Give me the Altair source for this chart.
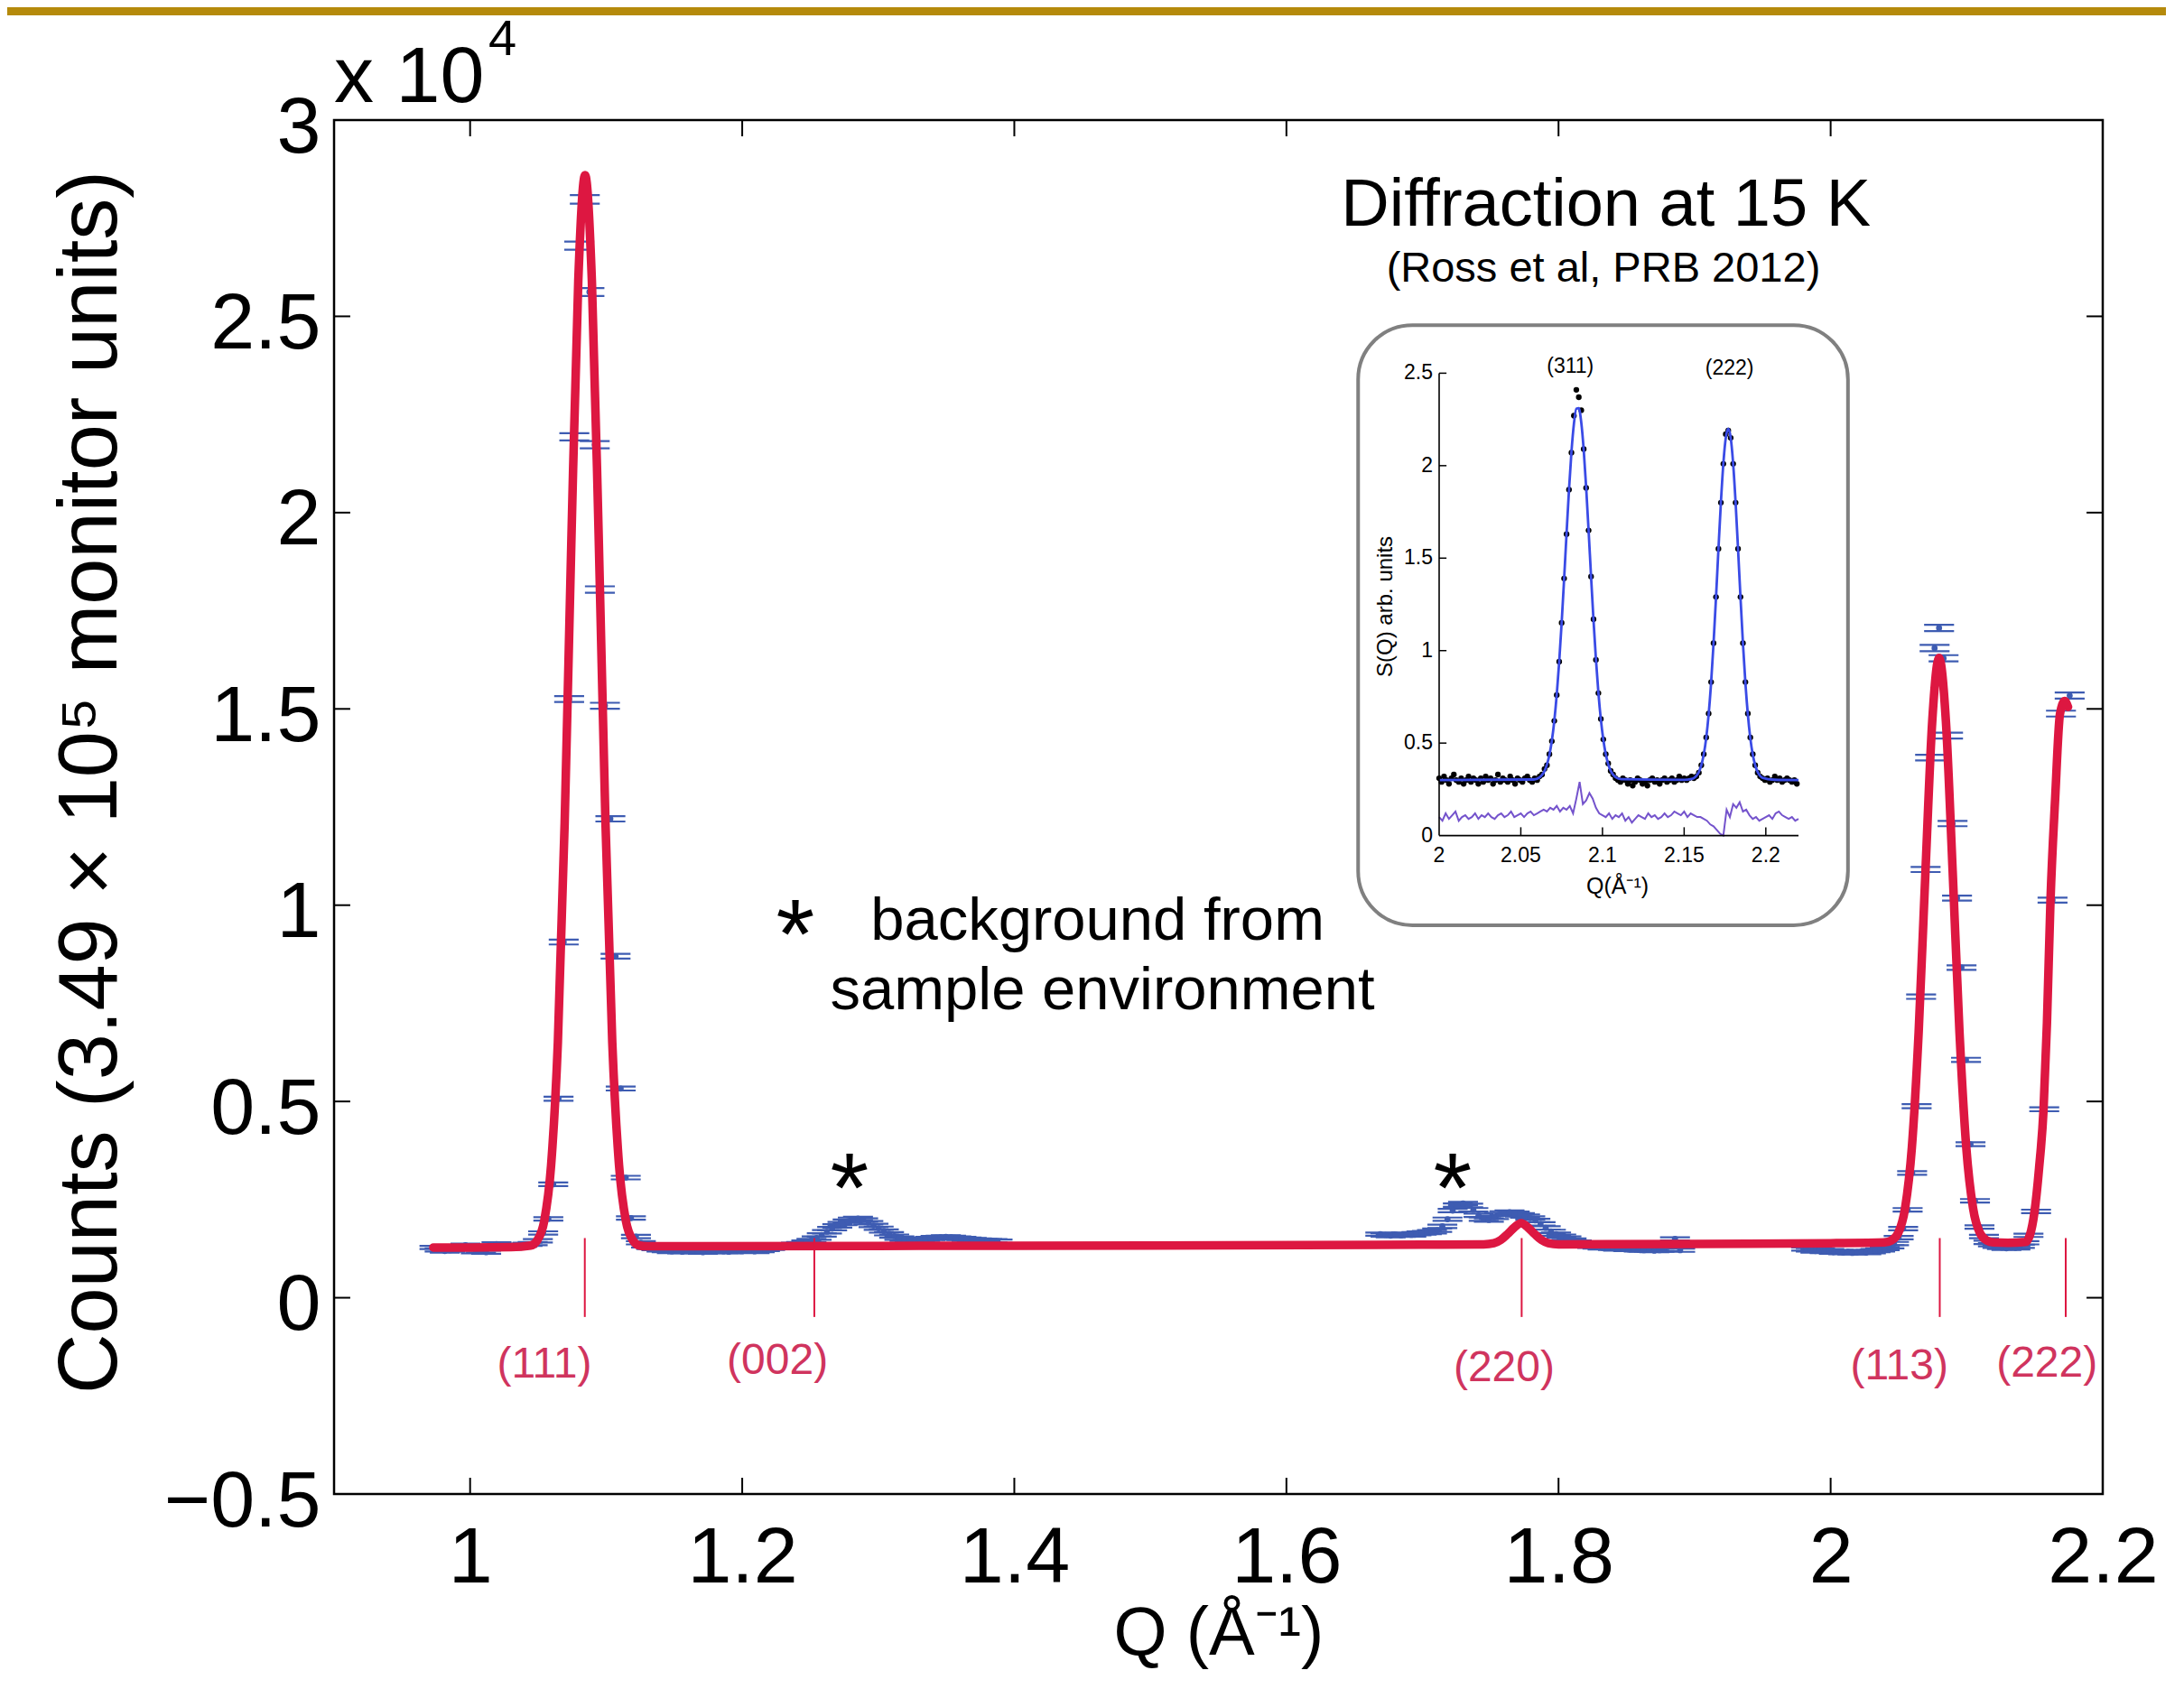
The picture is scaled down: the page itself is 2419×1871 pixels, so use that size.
import altair as alt
import pandas as pd

FONT = "Liberation Sans"
BLUE = "#3E5CB2"
RED = "#DD1741"
HKL_COLOR = "#D0345E"
GOLD = "#B58A0B"
W, H = 1959, 1522

# ---------------- main data (counts in units of 1e4) ----------------
segA_q = [0.9738, 0.9776, 0.9814, 0.9852, 0.9890, 0.9928, 0.9966, 1.0004, 1.0042, 1.0080,
          1.0118, 1.0156, 1.0194, 1.0232, 1.0270, 1.0308, 1.0346, 1.0384, 1.0422, 1.0460,
          1.0498, 1.0537, 1.0575, 1.0611, 1.0650, 1.0688, 1.0728, 1.0766, 1.0802, 1.0843,
          1.0877, 1.0916, 1.0954, 1.0991, 1.1031, 1.1069, 1.1107, 1.1144, 1.1182, 1.1219,
          1.1255, 1.1293, 1.1331, 1.1369, 1.1407, 1.1445, 1.1483, 1.1521, 1.1559, 1.1597,
          1.1635, 1.1673, 1.1711, 1.1749, 1.1787, 1.1825, 1.1863, 1.1901, 1.1939, 1.1977,
          1.2015, 1.2053, 1.2091, 1.2129, 1.2167, 1.2205, 1.2243, 1.2281, 1.2319, 1.2357,
          1.2395, 1.2433, 1.2471, 1.2509, 1.2547, 1.2585, 1.2623, 1.2661, 1.2699, 1.2737,
          1.2775, 1.2813, 1.2851, 1.2889, 1.2927, 1.2965, 1.3003, 1.3041, 1.3079, 1.3117,
          1.3155, 1.3193, 1.3231, 1.3269, 1.3307, 1.3345, 1.3383, 1.3421, 1.3459, 1.3497,
          1.3535, 1.3573, 1.3611, 1.3649, 1.3687, 1.3725, 1.3763, 1.3801, 1.3839, 1.3877]
segA_v = [0.128, 0.122, 0.119, 0.121, 0.124, 0.127, 0.134, 0.125, 0.117, 0.119,
          0.116, 0.128, 0.137, 0.131, 0.127, 0.129, 0.132, 0.134, 0.136, 0.138,
          0.145, 0.165, 0.201, 0.289, 0.507, 0.906, 1.525, 2.193, 2.680, 2.798,
          2.562, 2.173, 1.804, 1.508, 1.220, 0.870, 0.533, 0.306, 0.203, 0.156,
          0.140, 0.132, 0.128, 0.125, 0.122, 0.120, 0.118, 0.121, 0.117, 0.119,
          0.121, 0.118, 0.116, 0.119, 0.121, 0.122, 0.118, 0.117, 0.120, 0.122,
          0.124, 0.121, 0.118, 0.120, 0.123, 0.126, 0.128, 0.131, 0.133, 0.134,
          0.136, 0.138, 0.142, 0.146, 0.152, 0.160, 0.168, 0.176, 0.183, 0.189,
          0.195, 0.200, 0.202, 0.198, 0.191, 0.184, 0.177, 0.170, 0.163, 0.157,
          0.152, 0.149, 0.147, 0.146, 0.147, 0.149, 0.151, 0.153, 0.154, 0.155,
          0.154, 0.152, 0.151, 0.149, 0.148, 0.147, 0.146, 0.145, 0.145, 0.144]

segB_q = [1.6690, 1.6728, 1.6766, 1.6804, 1.6842, 1.6880, 1.6918, 1.6956, 1.6994, 1.7032,
          1.7070, 1.7108, 1.7146, 1.7184, 1.7222, 1.7260, 1.7298, 1.7336, 1.7374, 1.7412,
          1.7450, 1.7488, 1.7526, 1.7564, 1.7602, 1.7640, 1.7678, 1.7716, 1.7754, 1.7792,
          1.7830, 1.7868, 1.7906, 1.7944, 1.7982, 1.8020, 1.8058, 1.8096, 1.8134, 1.8172,
          1.8210, 1.8248, 1.8286, 1.8324, 1.8362, 1.8400, 1.8438, 1.8476, 1.8514, 1.8552,
          1.8590, 1.8628, 1.8666, 1.8704, 1.8742, 1.8780, 1.8818, 1.8856, 1.8894]
segB_v = [0.162, 0.160, 0.158, 0.161, 0.159, 0.162, 0.160, 0.163, 0.165, 0.166,
          0.168, 0.172, 0.182, 0.200, 0.222, 0.236, 0.240, 0.235, 0.224, 0.210,
          0.200, 0.198, 0.205, 0.212, 0.216, 0.218, 0.215, 0.211, 0.208, 0.203,
          0.197, 0.188, 0.178, 0.169, 0.162, 0.157, 0.152, 0.147, 0.142, 0.138,
          0.134, 0.131, 0.129, 0.127, 0.128, 0.126, 0.124, 0.125, 0.123, 0.124,
          0.122, 0.121, 0.122, 0.120, 0.121, 0.123, 0.135, 0.150, 0.121]

segC_q = [1.9820, 1.9854, 1.9888, 1.9922, 1.9956, 1.9990, 2.0024, 2.0058, 2.0092, 2.0126,
          2.0160, 2.0194, 2.0228, 2.0262, 2.0296, 2.0330, 2.0364, 2.0398, 2.0432, 2.0466,
          2.0500, 2.0533, 2.0566, 2.0599, 2.0632, 2.0665, 2.0698, 2.0731, 2.0764, 2.0797,
          2.0830, 2.0863, 2.0896, 2.0929, 2.0962, 2.0995, 2.1028, 2.1061, 2.1094, 2.1127,
          2.1160, 2.1193, 2.1226, 2.1259, 2.1292, 2.1325, 2.1358, 2.1391, 2.1424, 2.1454,
          2.1510, 2.1570, 2.1631, 2.1693, 2.1757]
segC_v = [0.124, 0.122, 0.119, 0.121, 0.118, 0.120, 0.116, 0.118, 0.115, 0.117,
          0.114, 0.116, 0.118, 0.115, 0.117, 0.120, 0.122, 0.125, 0.130, 0.138,
          0.153, 0.176, 0.224, 0.318, 0.488, 0.767, 1.091, 1.376, 1.655, 1.706,
          1.629, 1.432, 1.208, 1.018, 0.841, 0.606, 0.391, 0.247, 0.180, 0.156,
          0.141, 0.135, 0.131, 0.128, 0.126, 0.128, 0.127, 0.131, 0.140, 0.159,
          0.220, 0.480, 1.013, 1.488, 1.534]

# red fit curve
fit_q = [0.9730, 1.0000, 1.0300, 1.0445, 1.0495, 1.0545, 1.0595, 1.0645, 1.0695, 1.0745,
         1.0795, 1.0845, 1.0895, 1.0945, 1.0995, 1.1045, 1.1095, 1.1145, 1.1195, 1.1245,
         1.1300, 1.3000, 1.5000, 1.7000, 1.7450, 1.7525, 1.7575, 1.7625, 1.7675, 1.7725,
         1.7775, 1.7825, 1.7875, 1.7925, 1.8000, 1.9000, 2.0000, 2.0397, 2.0447, 2.0497,
         2.0547, 2.0597, 2.0647, 2.0697, 2.0747, 2.0797, 2.0847, 2.0897, 2.0947, 2.0997,
         2.1047, 2.1097, 2.1147, 2.1197, 2.1300, 2.1432, 2.1465, 2.1498, 2.1532, 2.1565,
         2.1590, 2.1616, 2.1650, 2.1686, 2.1720, 2.1745]
fit_v = [0.128, 0.128, 0.129, 0.133, 0.147, 0.196, 0.336, 0.650, 1.210, 1.940,
         2.590, 2.860, 2.590, 1.940, 1.210, 0.650, 0.336, 0.196, 0.147, 0.133,
         0.131, 0.132, 0.133, 0.135, 0.136, 0.139, 0.147, 0.162, 0.179, 0.190,
         0.179, 0.162, 0.147, 0.139, 0.136, 0.137, 0.139, 0.141, 0.146, 0.165,
         0.228, 0.383, 0.677, 1.086, 1.470, 1.630, 1.470, 1.086, 0.677, 0.383,
         0.228, 0.165, 0.146, 0.141, 0.140, 0.142, 0.160, 0.218, 0.330, 0.480,
         0.700, 1.013, 1.270, 1.488, 1.520, 1.505]

hkl_names = ["(111)", "(002)", "(220)", "(113)", "(222)"]
hkl_q = [1.0843, 1.2530, 1.7729, 2.0802, 2.1728]
hkl_label_q = [1.0546, 1.2259, 1.7600, 2.0505, 2.1590]
hkl_label_v = [-0.171, -0.163, -0.180, -0.176, -0.170]

x_tick_vals = [1.0, 1.2, 1.4, 1.6, 1.8, 2.0, 2.2]
y_tick_vals = [-0.5, 0.0, 0.5, 1.0, 1.5, 2.0, 2.5, 3.0]
x_inner_ticks = [1.0, 1.2, 1.4, 1.6, 1.8, 2.0]
y_inner_ticks = [0.0, 0.5, 1.0, 1.5, 2.0, 2.5]

# ---------------- inset data (Ross et al, PRB 2012) ----------------
inset_q = [2.0000, 2.0015, 2.0030, 2.0045, 2.0060, 2.0075, 2.0090, 2.0105, 2.0120, 2.0135,
           2.0150, 2.0165, 2.0180, 2.0195, 2.0210, 2.0225, 2.0240, 2.0255, 2.0270, 2.0285,
           2.0300, 2.0315, 2.0330, 2.0345, 2.0360, 2.0375, 2.0390, 2.0405, 2.0420, 2.0435,
           2.0450, 2.0465, 2.0480, 2.0495, 2.0510, 2.0525, 2.0540, 2.0555, 2.0570, 2.0585,
           2.0600, 2.0615, 2.0630, 2.0645, 2.0660, 2.0675, 2.0690, 2.0705, 2.0720, 2.0735,
           2.0750, 2.0765, 2.0780, 2.0795, 2.0810, 2.0825, 2.0840, 2.0855, 2.0870, 2.0885,
           2.0900, 2.0915, 2.0930, 2.0945, 2.0960, 2.0975, 2.0990, 2.1005, 2.1020, 2.1035,
           2.1050, 2.1065, 2.1080, 2.1095, 2.1110, 2.1125, 2.1140, 2.1155, 2.1170, 2.1185,
           2.1200, 2.1215, 2.1230, 2.1245, 2.1260, 2.1275, 2.1290, 2.1305, 2.1320, 2.1335,
           2.1350, 2.1365, 2.1380, 2.1395, 2.1410, 2.1425, 2.1440, 2.1455, 2.1470, 2.1485,
           2.1500, 2.1515, 2.1530, 2.1545, 2.1560, 2.1575, 2.1590, 2.1605, 2.1620, 2.1635,
           2.1650, 2.1665, 2.1680, 2.1695, 2.1710, 2.1725, 2.1740, 2.1755, 2.1770, 2.1785,
           2.1800, 2.1815, 2.1830, 2.1845, 2.1860, 2.1875, 2.1890, 2.1905, 2.1920, 2.1935,
           2.1950, 2.1965, 2.1980, 2.1995, 2.2010, 2.2025, 2.2040, 2.2055, 2.2070, 2.2085,
           2.2100, 2.2115, 2.2130, 2.2145, 2.2160, 2.2175, 2.2190]
inset_s = [0.31, 0.29, 0.32, 0.30, 0.28, 0.31, 0.33, 0.30, 0.29, 0.31,
           0.28, 0.30, 0.32, 0.29, 0.31, 0.30, 0.28, 0.31, 0.29, 0.32,
           0.30, 0.31, 0.28, 0.30, 0.33, 0.29, 0.31, 0.30, 0.29, 0.32,
           0.30, 0.28, 0.31, 0.30, 0.29, 0.31, 0.32, 0.30, 0.29, 0.31,
           0.30, 0.32, 0.33, 0.36, 0.38, 0.44, 0.51, 0.62, 0.76, 0.94,
           1.15, 1.39, 1.63, 1.87, 2.07, 2.27, 2.41, 2.37, 2.30, 2.09,
           1.88, 1.65, 1.40, 1.17, 0.95, 0.77, 0.63, 0.52, 0.44, 0.39,
           0.35, 0.33, 0.31, 0.30, 0.29, 0.31, 0.30, 0.28, 0.30, 0.27,
           0.29, 0.31, 0.30, 0.28, 0.29, 0.27, 0.30, 0.31, 0.29, 0.30,
           0.28, 0.30, 0.31, 0.29, 0.30, 0.31, 0.29, 0.30, 0.32, 0.30,
           0.31, 0.30, 0.31, 0.32, 0.31, 0.32, 0.34, 0.38, 0.44, 0.53,
           0.66, 0.83, 1.04, 1.29, 1.55, 1.80, 2.01, 2.17, 2.19, 2.15,
           2.01, 1.80, 1.55, 1.29, 1.04, 0.83, 0.66, 0.53, 0.44, 0.38,
           0.34, 0.32, 0.31, 0.30, 0.31, 0.29, 0.30, 0.32, 0.30, 0.31,
           0.29, 0.30, 0.31, 0.30, 0.29, 0.30, 0.28]

inset_fit_q = [2.0000, 2.0580, 2.0615,
               2.0630, 2.0645, 2.0660, 2.0675, 2.0690, 2.0705, 2.0720, 2.0735, 2.0750, 2.0765,
               2.0780, 2.0795, 2.0810, 2.0825, 2.0840, 2.0855, 2.0870, 2.0885, 2.0900, 2.0915,
               2.0930, 2.0945, 2.0960, 2.0975, 2.0990, 2.1005, 2.1020, 2.1035, 2.1050, 2.1065,
               2.1080, 2.1115, 2.1500, 2.1545, 2.1560,
               2.1575, 2.1590, 2.1605, 2.1620, 2.1635, 2.1650, 2.1665, 2.1680, 2.1695, 2.1710,
               2.1725, 2.1740, 2.1755, 2.1770, 2.1785, 2.1800, 2.1815, 2.1830, 2.1845, 2.1860,
               2.1875, 2.1890, 2.1905, 2.1920, 2.1935, 2.1950, 2.1965, 2.1980,
               2.2050, 2.2200]
inset_fit_s = [0.300, 0.303, 0.315,
               0.328, 0.349, 0.384, 0.436, 0.513, 0.620, 0.762, 0.940, 1.150, 1.386,
               1.632, 1.869, 2.074, 2.226, 2.308, 2.311, 2.234, 2.086, 1.883, 1.649,
               1.402, 1.165, 0.953, 0.772, 0.628, 0.519, 0.441, 0.387, 0.351, 0.329,
               0.316, 0.305, 0.301, 0.306, 0.311,
               0.323, 0.344, 0.380, 0.438, 0.527, 0.655, 0.826, 1.039, 1.286, 1.549,
               1.801, 2.011, 2.151, 2.200, 2.151, 2.011, 1.801, 1.549, 1.286, 1.039,
               0.826, 0.655, 0.527, 0.438, 0.380, 0.344, 0.323, 0.312,
               0.302, 0.300]

resid_q = [2.000, 2.002, 2.004, 2.006, 2.008, 2.010, 2.012, 2.014, 2.016, 2.018,
           2.020, 2.022, 2.024, 2.026, 2.028, 2.030, 2.032, 2.034, 2.036, 2.038,
           2.040, 2.042, 2.044, 2.046, 2.048, 2.050, 2.052, 2.054, 2.056, 2.058,
           2.060, 2.062, 2.064, 2.066, 2.068, 2.070, 2.072, 2.074, 2.076, 2.078,
           2.080, 2.082, 2.084, 2.086, 2.088, 2.090, 2.092, 2.094, 2.096, 2.098,
           2.100, 2.102, 2.104, 2.106, 2.108, 2.110, 2.112, 2.114, 2.116, 2.118,
           2.120, 2.122, 2.124, 2.126, 2.128, 2.130, 2.132, 2.134, 2.136, 2.138,
           2.140, 2.142, 2.144, 2.146, 2.148, 2.150, 2.152, 2.154, 2.156, 2.158,
           2.160, 2.162, 2.164, 2.166, 2.168, 2.170, 2.172, 2.174, 2.176, 2.178,
           2.180, 2.182, 2.184, 2.186, 2.188, 2.190, 2.192, 2.194, 2.196, 2.198,
           2.200, 2.202, 2.204, 2.206, 2.208, 2.210, 2.212, 2.214, 2.216, 2.218, 2.220]
resid_s = [0.10, 0.08, 0.12, 0.09, 0.11, 0.13, 0.08, 0.10, 0.11, 0.09,
           0.10, 0.12, 0.09, 0.11, 0.10, 0.12, 0.10, 0.09, 0.11, 0.12,
           0.10, 0.11, 0.13, 0.10, 0.11, 0.12, 0.10, 0.12, 0.13, 0.11,
           0.12, 0.13, 0.14, 0.13, 0.15, 0.14, 0.16, 0.13, 0.15, 0.14,
           0.16, 0.12, 0.20, 0.29, 0.17, 0.19, 0.23, 0.20, 0.15, 0.12,
           0.11, 0.10, 0.12, 0.09, 0.11, 0.10, 0.12, 0.08, 0.10, 0.07,
           0.09, 0.11, 0.10, 0.09, 0.12, 0.10, 0.11, 0.09, 0.10, 0.12,
           0.10, 0.11, 0.13, 0.12, 0.11, 0.13, 0.10, 0.12, 0.11, 0.10,
           0.10, 0.09, 0.08, 0.06, 0.05, 0.03, 0.01, 0.00, 0.14, 0.10,
           0.17, 0.15, 0.18, 0.13, 0.14, 0.11, 0.09, 0.10, 0.08, 0.09,
           0.10, 0.11, 0.09, 0.12, 0.13, 0.11, 0.10, 0.09, 0.10, 0.08, 0.09]

inset_xtick_vals = [2.0, 2.05, 2.1, 2.15, 2.2]
inset_xtick_labels = ["2", "2.05", "2.1", "2.15", "2.2"]
inset_ytick_vals = [0.0, 0.5, 1.0, 1.5, 2.0, 2.5]
inset_ytick_labels = ["0", "0.5", "1", "1.5", "2", "2.5"]

# ---------------- scales & axes ----------------
X_SCALE = alt.Scale(domain=[0.9, 2.2], nice=False, zero=False)
Y_SCALE = alt.Scale(domain=[-0.5, 3.0], nice=False, zero=False)
X_AXIS = alt.Axis(title="Q (Å⁻¹)", values=x_tick_vals, format="~g", grid=False, ticks=False,
                  domain=False, labelFont=FONT, labelFontSize=88, labelColor="black",
                  labelPadding=27, labelFlush=False, labelOverlap=False,
                  titleFont=FONT, titleFontSize=76, titleFontWeight="normal",
                  titleColor="black", titlePadding=2)
Y_AXIS = alt.Axis(title="Counts (3.49 × 10⁵ monitor units)", values=y_tick_vals, format="~g",
                  grid=False, ticks=False, domain=False, labelFont=FONT, labelFontSize=88,
                  labelColor="black", labelPadding=15, labelOffset=9, labelFlush=False,
                  labelOverlap=False, titleFont=FONT, titleFontSize=92,
                  titleFontWeight="normal", titleColor="black", titlePadding=34,
                  titleAngle=270, titleY=733)

INSET_X = alt.Scale(domain=[2.0, 2.22], range=[1224, 1622], nice=False, zero=False)
INSET_Y = alt.Scale(domain=[0.0, 2.5], range=[792.6, 280.4], nice=False, zero=False)


def mx(f):
    return alt.X(f"{f}:Q", scale=X_SCALE, axis=X_AXIS)


def my(f):
    return alt.Y(f"{f}:Q", scale=Y_SCALE, axis=Y_AXIS)


def ix(f):
    return alt.X(f"{f}:Q", scale=INSET_X, axis=None)


def iy(f):
    return alt.Y(f"{f}:Q", scale=INSET_Y, axis=None)


def mtext(rows, **kw):
    df = pd.DataFrame(rows, columns=["q", "v", "label"])
    return alt.Chart(df).mark_text(font=FONT, **kw).encode(x=mx("q"), y=my("v"), text="label:N")


def itext(rows, **kw):
    df = pd.DataFrame(rows, columns=["q", "v", "label"])
    return alt.Chart(df).mark_text(font=FONT, color="black", **kw).encode(
        x=ix("q"), y=iy("v"), text="label:N")


# ---------------- main layers ----------------
main_df = pd.DataFrame({"q": segA_q + segB_q + segC_q, "v": segA_v + segB_v + segC_v})
base = (alt.Chart(main_df)
        .transform_calculate(err="0.0038 + 0.0025 * datum.v")
        .transform_calculate(hi="datum.v + datum.err")
        .transform_calculate(lo="datum.v - datum.err")
        .transform_calculate(ql="datum.q - 0.011")
        .transform_calculate(qr="datum.q + 0.011"))

caps_hi = base.mark_rule(color=BLUE, strokeWidth=2.2).encode(x=mx("ql"), x2="qr:Q", y=my("hi"))
caps_lo = base.mark_rule(color=BLUE, strokeWidth=2.2).encode(x=mx("ql"), x2="qr:Q", y=my("lo"))
stems = base.mark_rule(color=BLUE, strokeWidth=1.5).encode(x=mx("q"), y=my("lo"), y2="hi:Q")
dots = base.mark_circle(color=BLUE, size=45, opacity=1).encode(x=mx("q"), y=my("v"))

fit = (alt.Chart(pd.DataFrame({"q": fit_q, "v": fit_v}))
       .mark_line(color=RED, strokeWidth=9.5, interpolate="monotone",
                  strokeCap="round", strokeJoin="round")
       .encode(x=mx("q"), y=my("v")))

hkl_rules = (alt.Chart(pd.DataFrame({"q": hkl_q}))
             .transform_calculate(top="0.152", bot="-0.049")
             .mark_rule(color=RED, strokeWidth=2)
             .encode(x=mx("q"), y=my("top"), y2="bot:Q"))
hkl_text = (alt.Chart(pd.DataFrame({"q": hkl_label_q, "v": hkl_label_v, "label": hkl_names}))
            .mark_text(font=FONT, fontSize=48, color=HKL_COLOR, align="center", baseline="middle")
            .encode(x=mx("q"), y=my("v"), text="label:N"))

xt = pd.DataFrame({"t": x_inner_ticks})
yt = pd.DataFrame({"t": y_inner_ticks})
tick_bottom = alt.Chart(xt).transform_calculate(a="-0.5", b="-0.4586").mark_rule(
    color="black", strokeWidth=2).encode(x=mx("t"), y=my("a"), y2="b:Q")
tick_top = alt.Chart(xt).transform_calculate(a="3.0", b="2.9586").mark_rule(
    color="black", strokeWidth=2).encode(x=mx("t"), y=my("a"), y2="b:Q")
tick_left = alt.Chart(yt).transform_calculate(a="0.9", b="0.9119").mark_rule(
    color="black", strokeWidth=2).encode(x=mx("a"), x2="b:Q", y=my("t"))
tick_right = alt.Chart(yt).transform_calculate(a="2.2", b="2.1881").mark_rule(
    color="black", strokeWidth=2).encode(x=mx("a"), x2="b:Q", y=my("t"))

gold = alt.Chart(pd.DataFrame({"d": [0]})).mark_rect(color=GOLD).encode(
    x=alt.value(-362), x2=alt.value(W + 70), y=alt.value(-125), y2=alt.value(-116))

t_x10 = mtext([(0.9, 3.045, "x 10")], fontSize=88, align="left", baseline="alphabetic", color="black")
t_exp = mtext([(1.0135, 3.166, "4")], fontSize=56, align="left", baseline="alphabetic", color="black")
t_title = mtext([(1.8348, 2.7306, "Diffraction at 15 K")], fontSize=74, align="center",
                baseline="alphabetic", color="black")
t_sub = mtext([(1.833, 2.589, "(Ross et al, PRB 2012)")], fontSize=47, align="center",
              baseline="alphabetic", color="black")
t_legend = mtext([(1.2943, 0.9115, "background from"), (1.2646, 0.734, "sample environment")],
                 fontSize=67, align="left", baseline="alphabetic", color="black")
t_star = mtext([(1.2391, 0.841, "*"), (1.2789, 0.195, "*"), (1.7222, 0.195, "*")],
               fontSize=110, align="center", baseline="alphabetic", color="black")

main = alt.layer(gold, caps_hi, caps_lo, stems, dots, fit, hkl_rules, hkl_text,
                 tick_bottom, tick_top, tick_left, tick_right,
                 t_x10, t_exp, t_title, t_sub, t_legend, t_star)

# ---------------- inset layers ----------------
box = (alt.Chart(pd.DataFrame({"q": [1.9504], "q2": [2.2503], "v": [-0.485], "v2": [2.760]}))
       .mark_rect(fill="white", stroke="#808080", strokeWidth=4, cornerRadius=60)
       .encode(x=ix("q"), x2="q2:Q", y=iy("v"), y2="v2:Q"))
resid = (alt.Chart(pd.DataFrame({"q": resid_q, "s": resid_s}))
         .mark_line(color="#7453CC", strokeWidth=2)
         .encode(x=ix("q"), y=iy("s")))
idots = (alt.Chart(pd.DataFrame({"q": inset_q, "s": inset_s}))
         .mark_circle(color="black", size=40, opacity=1)
         .encode(x=ix("q"), y=iy("s")))
ifit = (alt.Chart(pd.DataFrame({"q": inset_fit_q, "s": inset_fit_s}))
        .mark_line(color="#3A4BE6", strokeWidth=2.8, interpolate="monotone")
        .encode(x=ix("q"), y=iy("s")))
ixaxis = (alt.Chart(pd.DataFrame({"q": [2.0], "q2": [2.22], "s": [0.0]}))
          .mark_rule(color="black", strokeWidth=1.6)
          .encode(x=ix("q"), x2="q2:Q", y=iy("s")))
iyaxis = (alt.Chart(pd.DataFrame({"q": [2.0], "s": [0.0], "s2": [2.5]}))
          .mark_rule(color="black", strokeWidth=1.6)
          .encode(x=ix("q"), y=iy("s"), y2="s2:Q"))
ixticks = (alt.Chart(pd.DataFrame({"t": inset_xtick_vals[1:]}))
           .transform_calculate(a="0", b="0.045")
           .mark_rule(color="black", strokeWidth=1.5)
           .encode(x=ix("t"), y=iy("a"), y2="b:Q"))
iyticks = (alt.Chart(pd.DataFrame({"t": inset_ytick_vals[1:]}))
           .transform_calculate(a="2.0", b="2.0045")
           .mark_rule(color="black", strokeWidth=1.5)
           .encode(x=ix("a"), x2="b:Q", y=iy("t")))
ixlabels = (alt.Chart(pd.DataFrame({"t": inset_xtick_vals, "label": inset_xtick_labels}))
            .transform_calculate(a="0")
            .mark_text(font=FONT, fontSize=23, color="black", align="center", baseline="middle", dy=22)
            .encode(x=ix("t"), y=iy("a"), text="label:N"))
iylabels = (alt.Chart(pd.DataFrame({"t": inset_ytick_vals, "label": inset_ytick_labels}))
            .transform_calculate(a="2.0")
            .mark_text(font=FONT, fontSize=23, color="black", align="right", baseline="middle", dx=-7)
            .encode(x=ix("a"), y=iy("t"), text="label:N"))
ipeaks = itext([(2.0803, 2.537, "(311)"), (2.1778, 2.526, "(222)")], fontSize=23,
               align="center", baseline="middle")
iytitle = itext([(1.9674, 1.238, "S(Q) arb. units")], fontSize=24, align="center",
                baseline="middle", angle=270)
ixtitle = itext([(2.1092, -0.275, "Q(Å⁻¹)")], fontSize=25, align="center", baseline="middle")

inset = alt.layer(box, resid, idots, ifit, ixaxis, iyaxis, ixticks, iyticks,
                  ixlabels, iylabels, ipeaks, iytitle, ixtitle)

chart = (alt.layer(main, inset)
         .resolve_scale(x="independent", y="independent")
         .properties(width=W, height=H,
                     padding={"left": 362, "top": 125, "right": 70, "bottom": 200},
                     autosize=alt.AutoSizeParams(type="none"))
         .configure_view(stroke="black", strokeWidth=2.5))

chart.save("out.html", embed_options={"renderer": "svg", "actions": False})
